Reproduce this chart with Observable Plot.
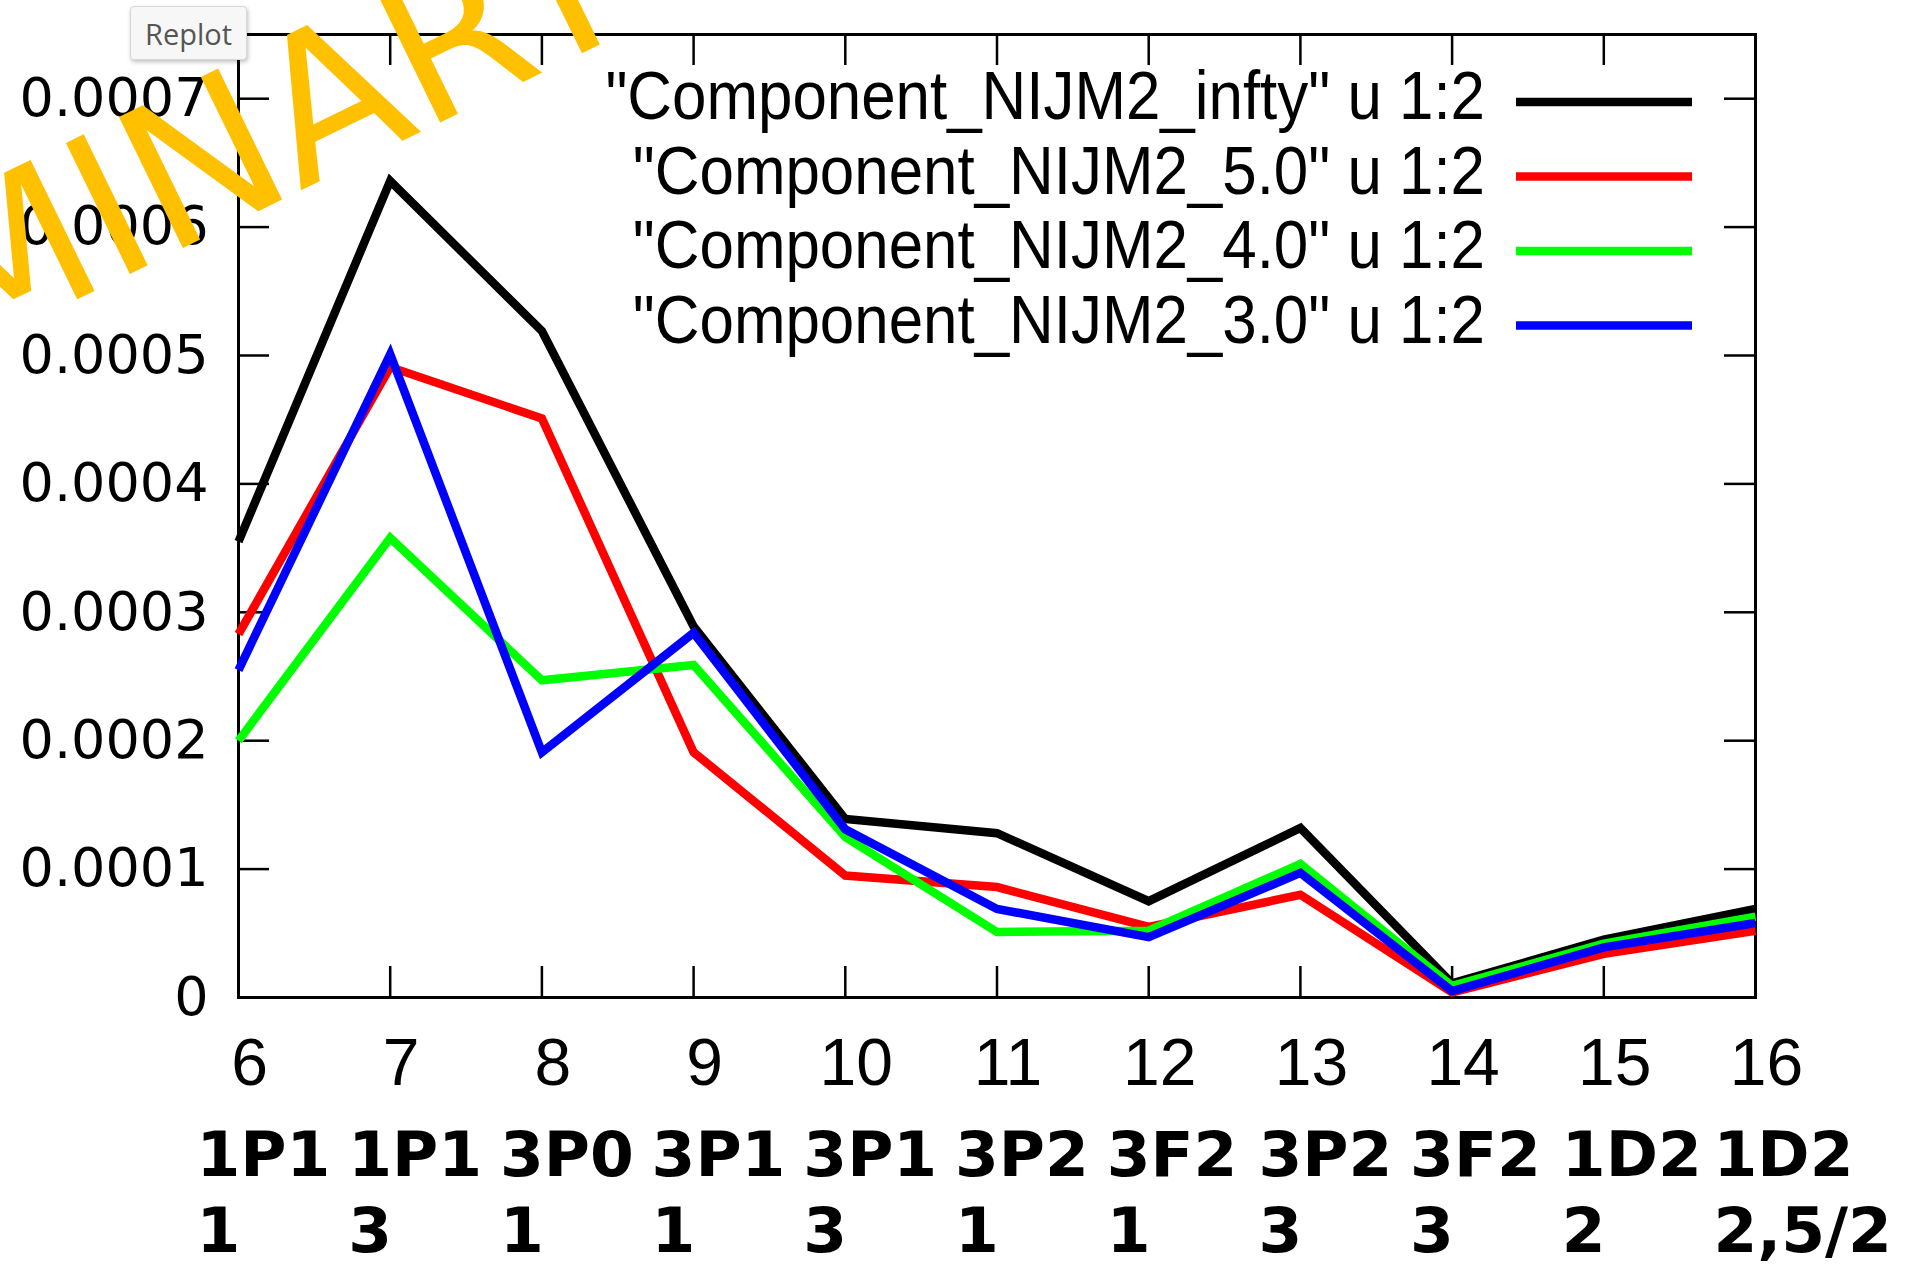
<!DOCTYPE html>
<html>
<head>
<meta charset="utf-8">
<script src="https://cdn.jsdelivr.net/npm/d3@7"></script>
<script src="https://cdn.jsdelivr.net/npm/@observablehq/plot@0.6"></script>
<style>
  html, body { margin: 0; padding: 0; background: #fff; }
  #wrap { position: relative; width: 1913px; height: 1267px; overflow: hidden; }
  #replot {
    position: absolute; left: 130px; top: 6px; width: 117px; height: 54px;
    box-sizing: border-box; background: #f7f7f7; border: 1px solid #d8d8d8;
    border-radius: 4px; box-shadow: 1px 2px 4px rgba(0,0,0,0.25);
    font: 29px "Open Sans", "Noto Sans", sans-serif; color: #555;
    display: flex; align-items: center; justify-content: center;
  }
</style>
</head>
<body>
<div id="wrap"><div id="replot">Replot</div></div>
<script>
// Partial-wave channels on the x axis
const partialWaves = [6, 7, 8, 9, 10, 11, 12, 13, 14, 15, 16];
const waveLabels = ["1P1", "1P1", "3P0", "3P1", "3P1", "3P2", "3F2", "3P2", "3F2", "1D2", "1D2"];
const waveSubLabels = ["1", "3", "1", "1", "3", "1", "1", "3", "3", "2", "2,5/2"];

// Component values per cutoff
const seriesNames = ["Component_NIJM2_infty", "Component_NIJM2_5.0", "Component_NIJM2_4.0", "Component_NIJM2_3.0"];
const seriesColors = ["#000000", "#ff0000", "#00ff00", "#0000ff"];
const nijmInfty = [0.000355, 0.000636, 0.000519, 0.000289, 0.000139, 0.000128, 0.000075, 0.000132, 0.000011, 0.000045, 0.000069];
const nijm50 = [0.000283, 0.000491, 0.000451, 0.000191, 0.000095, 0.000086, 0.000055, 0.000080, 0.000004, 0.000034, 0.000052];
const nijm40 = [0.000200, 0.000358, 0.000247, 0.000259, 0.000125, 0.000051, 0.000052, 0.000104, 0.000009, 0.000042, 0.000063];
const nijm30 = [0.000255, 0.000501, 0.000191, 0.000284, 0.000131, 0.000069, 0.000047, 0.000097, 0.000005, 0.000039, 0.000058];

const yTicks = [0, 0.0001, 0.0002, 0.0003, 0.0004, 0.0005, 0.0006, 0.0007];
const yTickLabels = ["0", "0.0001", "0.0002", "0.0003", "0.0004", "0.0005", "0.0006", "0.0007"];

const allSeries = [nijmInfty, nijm50, nijm40, nijm30];
const rows = seriesNames.flatMap((name, i) =>
  partialWaves.map((w, j) => ({series: name, wave: w, value: allSeries[i][j]}))
);

const W = 1913, H = 1267;
const mL = 238, mR = 158, mT = 34, mB = 270;
const innerW = W - mL - mR;
const innerH = H - mT - mB;
const tickLen = 31;

const plot = Plot.plot({
  width: W,
  height: H,
  marginLeft: mL,
  marginRight: mR,
  marginTop: mT,
  marginBottom: mB,
  style: {background: "white", overflow: "visible"},
  x: {domain: [6, 16], axis: null},
  y: {domain: [0, 0.00075], axis: null},
  color: {domain: seriesNames, range: seriesColors},
  marks: [
    // inward tics on all four sides
    Plot.tickY(yTicks, {y: d => d, insetRight: innerW - tickLen, stroke: "#000", strokeWidth: 2.5}),
    Plot.tickY(yTicks, {y: d => d, insetLeft: innerW - tickLen, stroke: "#000", strokeWidth: 2.5}),
    Plot.tickX(partialWaves, {x: d => d, insetTop: innerH - tickLen, stroke: "#000", strokeWidth: 2.5}),
    Plot.tickX(partialWaves, {x: d => d, insetBottom: innerH - tickLen, stroke: "#000", strokeWidth: 2.5}),
    Plot.frame({stroke: "#000", strokeWidth: 3}),
    Plot.line(rows, {
      x: "wave", y: "value", z: "series", stroke: "series",
      strokeWidth: 8.5, strokeLinejoin: "miter", strokeMiterlimit: 10, strokeLinecap: "butt"
    }),
    // y tick labels
    Plot.text(yTicks, {
      y: d => d, text: (d, i) => yTickLabels[i], frameAnchor: "left", textAnchor: "end",
      dx: -30, fontSize: 54, fontFamily: "DejaVu Sans", fill: "#000"
    }),
    // x tick labels
    Plot.text(partialWaves, {
      x: d => d, text: d => String(d), frameAnchor: "bottom", dy: 87, dx: 11,
      fontSize: 66, fontFamily: "Liberation Sans", fill: "#000"
    }),
    // partial-wave names, two rows
    Plot.text(partialWaves, {
      x: d => d, text: (d, i) => waveLabels[i], frameAnchor: "bottom", dy: 178, dx: -42,
      textAnchor: "start", fontSize: 63, fontWeight: "bold", fontFamily: "DejaVu Sans", fill: "#000"
    }),
    Plot.text(partialWaves, {
      x: d => d, text: (d, i) => waveSubLabels[i], frameAnchor: "bottom", dy: 254, dx: -42,
      textAnchor: "start", fontSize: 63, fontWeight: "bold", fontFamily: "DejaVu Sans", fill: "#000"
    })
  ]
});

const svg = d3.select(plot);

// key in the upper right corner of the frame
const key = svg.append("g");
const keyTextRight = W - mR - 270;
const keyLineX1 = W - mR - 239;
const keyLineX2 = W - mR - 63;
seriesNames.forEach((name, i) => {
  const ky = mT + 68 + i * 74.5;
  key.append("text")
    .attr("transform", `translate(${keyTextRight},${ky + 17}) scale(0.91,1)`)
    .attr("text-anchor", "end")
    .attr("font-family", "Liberation Sans").attr("font-size", 68)
    .attr("fill", "#000")
    .text(`"${name}" u 1:2`);
  key.append("line")
    .attr("x1", keyLineX1).attr("x2", keyLineX2)
    .attr("y1", ky).attr("y2", ky)
    .attr("stroke", seriesColors[i]).attr("stroke-width", 8.5);
});

// watermark across the top-left corner
svg.append("text")
  .attr("transform", "translate(-543,602) rotate(-26)")
  .attr("text-anchor", "start")
  .attr("font-family", "DejaVu Sans").attr("font-size", 200)
  .attr("fill", "#FFC000")
  .text("PRELIMINARY");

document.getElementById("wrap").prepend(plot);
</script>
</body>
</html>
